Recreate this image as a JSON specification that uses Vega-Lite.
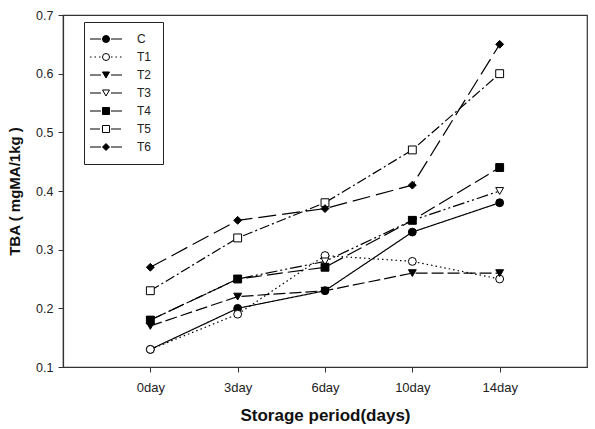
{
  "$schema": "https://vega.github.io/schema/vega-lite/v6.json",
  "width": 524,
  "height": 352,
  "autosize": {"type": "none"},
  "padding": {"left": 63, "top": 15, "right": 8, "bottom": 62},
  "background": "white",
  "data": {
    "values": [
      {"day": "0day", "series": "C", "tba": 0.13},
      {"day": "3day", "series": "C", "tba": 0.20},
      {"day": "6day", "series": "C", "tba": 0.23},
      {"day": "10day", "series": "C", "tba": 0.33},
      {"day": "14day", "series": "C", "tba": 0.38},
      {"day": "0day", "series": "T1", "tba": 0.13},
      {"day": "3day", "series": "T1", "tba": 0.19},
      {"day": "6day", "series": "T1", "tba": 0.29},
      {"day": "10day", "series": "T1", "tba": 0.28},
      {"day": "14day", "series": "T1", "tba": 0.25},
      {"day": "0day", "series": "T2", "tba": 0.17},
      {"day": "3day", "series": "T2", "tba": 0.22},
      {"day": "6day", "series": "T2", "tba": 0.23},
      {"day": "10day", "series": "T2", "tba": 0.26},
      {"day": "14day", "series": "T2", "tba": 0.26},
      {"day": "0day", "series": "T3", "tba": 0.18},
      {"day": "3day", "series": "T3", "tba": 0.25},
      {"day": "6day", "series": "T3", "tba": 0.28},
      {"day": "10day", "series": "T3", "tba": 0.35},
      {"day": "14day", "series": "T3", "tba": 0.40},
      {"day": "0day", "series": "T4", "tba": 0.18},
      {"day": "3day", "series": "T4", "tba": 0.25},
      {"day": "6day", "series": "T4", "tba": 0.27},
      {"day": "10day", "series": "T4", "tba": 0.35},
      {"day": "14day", "series": "T4", "tba": 0.44},
      {"day": "0day", "series": "T5", "tba": 0.23},
      {"day": "3day", "series": "T5", "tba": 0.32},
      {"day": "6day", "series": "T5", "tba": 0.38},
      {"day": "10day", "series": "T5", "tba": 0.47},
      {"day": "14day", "series": "T5", "tba": 0.60},
      {"day": "0day", "series": "T6", "tba": 0.27},
      {"day": "3day", "series": "T6", "tba": 0.35},
      {"day": "6day", "series": "T6", "tba": 0.37},
      {"day": "10day", "series": "T6", "tba": 0.41},
      {"day": "14day", "series": "T6", "tba": 0.65}
    ]
  },
  "encoding": {
    "x": {
      "field": "day",
      "type": "ordinal",
      "sort": ["0day", "3day", "6day", "10day", "14day"],
      "scale": {"type": "point", "padding": 1},
      "axis": {
        "title": "Storage period(days)",
        "labelAngle": 0,
        "labelFontSize": 13,
        "labelPadding": 9,
        "titleFontSize": 17,
        "titlePadding": 13
      }
    },
    "y": {
      "field": "tba",
      "type": "quantitative",
      "scale": {"domain": [0.1, 0.7], "nice": false, "zero": false},
      "axis": {
        "title": "TBA ( mgMA/1kg )",
        "values": [0.1, 0.2, 0.3, 0.4, 0.5, 0.6, 0.7],
        "format": ".1f",
        "labelFontSize": 12.5,
        "labelPadding": 5,
        "titleFontSize": 15,
        "titlePadding": 13
      }
    }
  },
  "layer": [
    {
      "mark": {"type": "line", "color": "black", "stroke": "black", "strokeWidth": 1.2},
      "encoding": {
        "detail": {"field": "series"},
        "strokeDash": {
          "field": "series",
          "type": "nominal",
          "scale": {
            "range": [[1, 0], [1.5, 3], [12, 4], [12, 3, 2, 3, 2, 3], [16, 5], [10, 3, 2, 3], [18, 6]]
          },
          "legend": {
            "title": null,
            "orient": "none",
            "legendX": 21,
            "legendY": 7,
            "padding": 11,
            "rowPadding": 6,
            "symbolType": "M-4.57,0H-1.43M1.43,0H4.57",
            "symbolSize": 49,
            "symbolStrokeWidth": 1,
            "symbolOffset": 5,
            "labelOffset": 25,
            "labelFontSize": 12,
            "strokeColor": "#222",
            "encode": {
              "symbols": {
                "stroke": {"value": "black"},
                "fill": {"value": "transparent"},
                "strokeWidth": {"value": 1}
              }
            }
          }
        }
      }
    },
    {
      "mark": {"type": "point", "filled": true, "stroke": "black", "strokeWidth": 1, "size": 62, "opacity": 1},
      "encoding": {
        "shape": {
          "field": "series",
          "type": "nominal",
          "scale": {
            "domain": ["C", "T1", "T2", "T3", "T4", "T5", "T6"],
            "range": ["circle", "circle", "triangle-down", "triangle-down", "square", "square", "diamond"]
          },
          "legend": {
            "title": null,
            "orient": "none",
            "legendX": 21,
            "legendY": 7,
            "padding": 11,
            "rowPadding": 6,
            "symbolSize": 49,
            "symbolStrokeWidth": 1,
            "symbolOffset": 5,
            "labelOffset": 25,
            "labelFontSize": 12,
            "labelOpacity": 0,
            "encode": {
              "symbols": {
                "stroke": {"value": "black"},
                "strokeWidth": {"value": 1}
              }
            }
          }
        },
        "fill": {
          "field": "series",
          "type": "nominal",
          "scale": {
            "domain": ["C", "T1", "T2", "T3", "T4", "T5", "T6"],
            "range": ["black", "white", "black", "white", "black", "white", "black"]
          },
          "legend": {
            "title": null,
            "orient": "none",
            "legendX": 21,
            "legendY": 7,
            "padding": 11,
            "rowPadding": 6,
            "symbolSize": 49,
            "symbolStrokeWidth": 1,
            "symbolOffset": 5,
            "labelOffset": 25,
            "labelFontSize": 12,
            "labelOpacity": 0,
            "encode": {
              "symbols": {
                "stroke": {"value": "black"},
                "strokeWidth": {"value": 1}
              }
            }
          }
        }
      }
    }
  ],
  "config": {
    "font": "Liberation Sans",
    "view": {"stroke": "#333", "strokeWidth": 1.2},
    "axis": {
      "grid": false,
      "domainColor": "#333",
      "domainWidth": 1.2,
      "tickColor": "#333",
      "tickSize": 5,
      "labelColor": "#222",
      "labelFont": "Liberation Sans",
      "titleFont": "Liberation Sans",
      "titleColor": "#111",
      "titleFontWeight": "bold"
    },
    "legend": {
      "labelFont": "Liberation Sans",
      "labelColor": "#222"
    }
  }
}
